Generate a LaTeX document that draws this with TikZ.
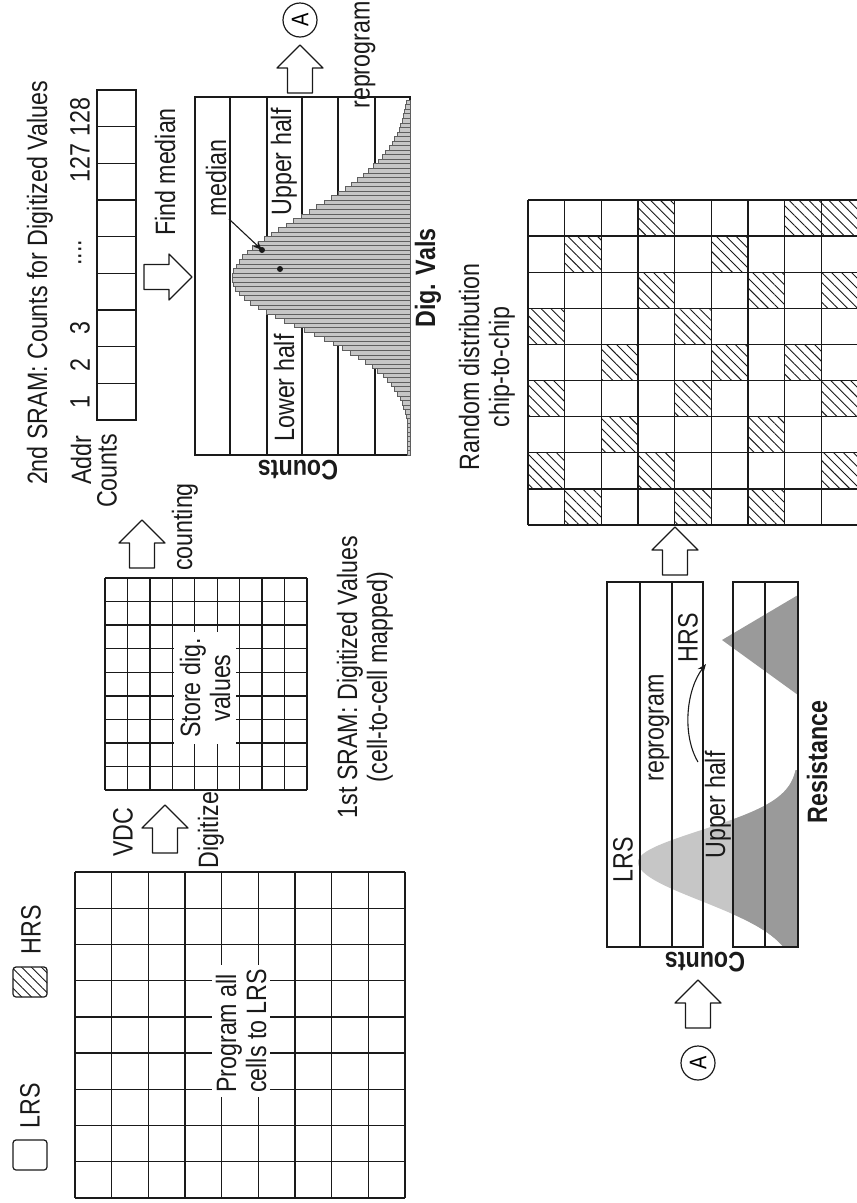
\documentclass[tikz,border=0pt]{standalone}
\usepackage{fontspec}
\setmainfont{Liberation Sans}[FakeStretch=0.83]
\usetikzlibrary{arrows.meta, patterns.meta, calc}
\definecolor{rrInk}{HTML}{1A1A1A}
\definecolor{rrShade}{HTML}{C6C6C6}
\definecolor{rrShadeDark}{HTML}{9A9A9A}
\tikzset{
  rrline/.style={draw=rrInk, line width=1.4pt},
  rrlabel/.style={rotate=90, text=rrInk, align=center, inner sep=1pt,
    font=\fontsize{28}{30}\selectfont},
  rraxis/.style={rrlabel, font=\fontsize{28}{30}\selectfont\bfseries},
  rrhatch/.style={pattern={Lines[angle=-45, distance=7pt, line width=0.9pt]},
    pattern color=rrInk},
  rrkey/.style={draw=rrInk, line width=1.2pt, rounded corners=3pt,
    minimum width=34pt, minimum height=30pt, inner sep=0pt},
  rrbar/.style={draw=rrInk!70, line width=0.5pt, fill=rrShade},
  rredge/.style={-{Stealth[length=9pt, width=7pt]}, draw=rrInk, line width=1.1pt},
  rrmark/.style={circle, fill=rrInk, inner sep=0pt, minimum size=6pt},
  rrtag/.style={circle, draw=rrInk, line width=1.2pt, minimum size=34pt,
    inner sep=0pt, rotate=90, font=\fontsize{24}{26}\selectfont},
  blockarrow/.pic={
    \draw[draw=rrInk, line width=1.2pt, fill=white, line join=round]
      (0,0) -- (23,23) -- (12.5,23) -- (12.5,48) -- (-12.5,48)
      -- (-12.5,23) -- (-23,23) -- cycle;
  },
}

\begin{document}
\begin{tikzpicture}[x=1pt, y=-1pt]
  \useasboundingbox (0,0) rectangle (857,1203);

  % --- Legend -------------------------------------------------------------
  \node[rrkey]         (keylrs) at (30,1155) {};
  \node[rrlabel]       (lrstxt) at (30,1106) {LRS};
  \node[rrkey,rrhatch] (keyhrs) at (30,982)  {};
  \node[rrlabel]       (hrstxt) at (31,930)  {HRS};

  % --- Cell array, all cells programmed to LRS ---------------------------
  \foreach \i in {0,...,9} {
    \draw[rrline] ({75+\i*36.67},872) -- ({75+\i*36.67},1198);
    \draw[rrline] (75,{872+\i*36.22}) -- (405,{872+\i*36.22});
  }
  \node[rrlabel, fill=white, align=left, anchor=west, inner sep=4pt]
    (program) at (241,1097) {Program all\\cells to LRS};

  \pic at (165,805) {blockarrow};
  \node[rrlabel] (vdc)      at (123,832) {VDC};
  \node[rrlabel] (digitize) at (211,830) {Digitize};

  % --- 1st SRAM ------------------------------------------------------------
  \foreach \i in {0,...,9} {
    \draw[rrline] ({105+\i*22.44},578) -- ({105+\i*22.44},790);
    \draw[rrline] (105,{578+\i*23.56}) -- (307,{578+\i*23.56});
  }
  \node[rrlabel, fill=white, inner sep=6pt] (store) at (205,688) {Store dig.\\values};
  \node[rrlabel] (sram1) at (365,677) {1st SRAM: Digitized Values\\(cell-to-cell mapped)};

  \pic at (142,520) {blockarrow};
  \node[rrlabel] (counting) at (185,527) {counting};

  % --- 2nd SRAM: counts per address ---------------------------------------
  \draw[rrline] (97,90) rectangle (136,420);
  \foreach \k in {1,...,8}
    \draw[rrline] (97,{90+\k*36.67}) -- (136,{90+\k*36.67});
  \node[rrlabel] (sram2)  at (40,283)  {2nd SRAM: Counts for Digitized Values};
  \node[rrlabel] (addr)   at (81,460)  {Addr};
  \node[rrlabel] (cnt)    at (107,471) {Counts};
  \node[rrlabel] (addr1)  at (80,402)  {1};
  \node[rrlabel] (addr2)  at (80,365)  {2};
  \node[rrlabel] (addr3)  at (80,328)  {3};
  \node[rrlabel] (addrd)  at (80,253)  {....};
  \node[rrlabel] (addrn)  at (80,140)  {127 128};

  \pic[rotate=-90] at (192,277) {blockarrow};
  \node[rrlabel] (findmed) at (165,172) {Find median};

  % --- Histogram of digitized values ---------------------------------------
  \draw[rrline] (195,97) rectangle (410,455);
  \foreach \xl in {230,267,302,338,375}
    \draw[rrline] (\xl,97) -- (\xl,455);
  \foreach \k in {0,...,77} {
    \pgfmathsetmacro\yb{100+\k*4.55}
    \pgfmathsetmacro\zz{(\yb<277) ? (\yb-277)/90 : (\yb-277)/70}
    \pgfmathsetmacro\bl{max(3,178*exp(-\zz*\zz))}
    \draw[rrbar] ({410-\bl},\yb) rectangle (410,{\yb+4.55});
  }
  \node[rrlabel] (median)    at (216,178) {median};
  \node[rrlabel] (upperhalf) at (284,162) {Upper half};
  \node[rrlabel] (lowerhalf) at (284,388) {Lower half};
  \node[rrlabel] (reprog1)   at (365,55)  {reprogram};
  \node[rraxis, rotate=90]   (counts1) at (298,470) {Counts};
  \node[rraxis]              (digvals) at (428,278) {Dig. Vals};

  \coordinate (medfrom) at (229,219);
  \coordinate (medtip)  at (262,250);
  \coordinate (medpt)   at (280,269);
  \draw[rredge] (medfrom) -- (medtip);
  \node[rrmark] at (medtip) {};
  \node[rrmark] at (medpt)  {};

  \pic at (300,45) {blockarrow};
  \node[rrtag] (tagtop) at (300,20) {A};

  % --- Final array: random LRS/HRS pattern ---------------------------------
  \foreach \c/\r in {3/0,7/0,8/0,1/1,5/1,3/2,6/2,8/2,0/3,4/3,2/4,5/4,7/4,
                     0/5,4/5,8/5,2/6,6/6,0/7,3/7,8/7,1/8,4/8,6/8}
    \fill[rrhatch] ({528+\c*36.67},{200+\r*36.11}) rectangle +(36.67,36.11);
  \foreach \i in {0,...,8}
    \draw[rrline] ({528+\i*36.67},200) -- ({528+\i*36.67},525);
  \foreach \i in {0,...,9}
    \draw[rrline] (528,{200+\i*36.11}) -- (862,{200+\i*36.11});
  \node[rrlabel] (random) at (487,367) {Random distribution\\chip-to-chip};

  \pic at (675,527) {blockarrow};

  % --- Resistance distributions --------------------------------------------
  \fill[rrShade] (798,770)
    -- plot[domain=770:947, samples=90, variable=\t]
       ({798-160*exp(-((\t-862)/((\t<862) ? 45 : 55))^2)}, \t)
    -- (798,947) -- cycle;
  \begin{scope}
    \clip (733,582) rectangle (798,947);
    \fill[rrShadeDark] (798,770)
      -- plot[domain=770:947, samples=90, variable=\t]
         ({798-160*exp(-((\t-862)/((\t<862) ? 45 : 55))^2)}, \t)
      -- (798,947) -- cycle;
  \end{scope}
  \fill[rrShadeDark] (798,595) -- (722,640) -- (798,695) -- cycle;

  \draw[rrline] (607,582) rectangle (703,947);
  \draw[rrline] (733,582) rectangle (798,947);
  \foreach \xl in {640,672,765}
    \draw[rrline] (\xl,582) -- (\xl,947);

  \node[rrlabel] (lrslbl)    at (623,860) {LRS};
  \node[rrlabel] (reprog2)   at (659,728) {reprogram};
  \node[rrlabel] (hrslbl)    at (688,638) {HRS};
  \node[rrlabel] (upperres)  at (718,805) {Upper half};
  \node[rraxis]  (resist)    at (817,762) {Resistance};
  \node[rraxis, rotate=90]   (counts2) at (705,962) {Counts};

  \coordinate (rpfrom) at (698,762);
  \coordinate (rpto)   at (706,664);
  \draw[rredge] (rpfrom) .. controls (682,735) and (686,690) .. (rpto);

  \pic at (698,980) {blockarrow};
  \node[rrtag] (tagbot) at (698,1063) {A};

\end{tikzpicture}
\end{document}
